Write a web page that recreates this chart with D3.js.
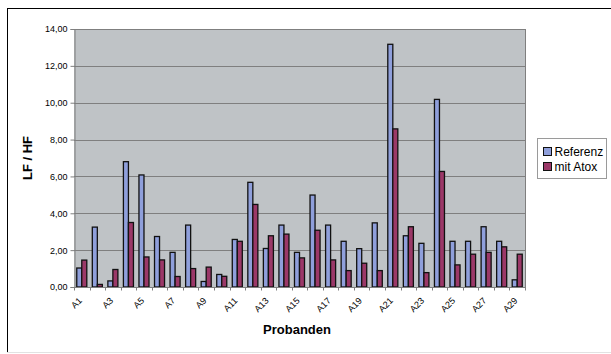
<!DOCTYPE html>
<html>
<head>
<meta charset="utf-8">
<script src="https://cdn.jsdelivr.net/npm/d3@7"></script>
<style>
  html, body { margin: 0; padding: 0; background: #fff; }
  svg { display: block; font-family: Arial, "Liberation Sans", sans-serif; }
</style>
</head>
<body>
<svg id="chart" width="611" height="354"></svg>
<script>
// Probanden A1..A29, LF/HF ratio for the two conditions
const categories = d3.range(1, 30).map(i => "A" + i);
const referenz = [1.03, 3.25, 0.33, 6.80, 6.08, 2.74, 1.88, 3.36, 0.30, 0.68, 2.58, 5.68,
                  2.09, 3.36, 1.88, 4.99, 3.36, 2.48, 2.08, 3.48, 13.17, 2.78, 2.37, 10.18,
                  2.48, 2.48, 3.27, 2.48, 0.39];
const mitAtox = [1.46, 0.14, 0.95, 3.50, 1.63, 1.47, 0.57, 1.00, 1.08, 0.58, 2.48, 4.48,
                 2.78, 2.87, 1.58, 3.08, 1.47, 0.89, 1.29, 0.89, 8.58, 3.27, 0.78, 6.27,
                 1.20, 1.78, 1.88, 2.18, 1.78];
const seriesNames = ["Referenz", "mit Atox"];
const seriesColors = ["#8f9fdb", "#9b3868"];
const yTicks = [0, 2, 4, 6, 8, 10, 12, 14];

const svg = d3.select("#chart");
const plot = { left: 74, top: 29, right: 525, bottom: 287 };

// outer frame of the chart object
svg.append("line").attr("x1", 7.5).attr("x2", 7.5).attr("y1", 8).attr("y2", 352)
  .attr("stroke", "#000").attr("stroke-width", 1);
svg.append("line").attr("x1", 7).attr("x2", 611).attr("y1", 8.5).attr("y2", 8.5)
  .attr("stroke", "#000").attr("stroke-width", 1);
svg.append("line").attr("x1", 7).attr("x2", 611).attr("y1", 352.5).attr("y2", 352.5)
  .attr("stroke", "#e2e2e2").attr("stroke-width", 1);

const x = d3.scaleBand().domain(categories).range([plot.left, plot.right]).padding(0);
const inner = d3.scaleBand().domain(seriesNames).range([0, x.bandwidth()])
  .paddingOuter(0.55).paddingInner(0);
const y = d3.scaleLinear().domain([0, 14]).range([plot.bottom, plot.top]);

// plot area background
svg.append("rect")
  .attr("x", plot.left).attr("y", plot.top)
  .attr("width", plot.right - plot.left).attr("height", plot.bottom - plot.top)
  .attr("fill", "#bfc3c6");

// gridlines
svg.append("g").selectAll("line").data(yTicks.filter(d => d > 0)).join("line")
  .attr("x1", plot.left).attr("x2", plot.right)
  .attr("y1", d => Math.round(y(d)) + 0.5).attr("y2", d => Math.round(y(d)) + 0.5)
  .attr("stroke", "#7f7f7f").attr("stroke-width", 1);

// right border of plot area
svg.append("line").attr("x1", plot.right + 0.5).attr("x2", plot.right + 0.5)
  .attr("y1", plot.top).attr("y2", plot.bottom)
  .attr("stroke", "#7f7f7f").attr("stroke-width", 1);

// bars
const rows = categories.map((c, i) => ({ cat: c, vals: [referenz[i], mitAtox[i]] }));
const groups = svg.append("g").selectAll("g").data(rows).join("g")
  .attr("transform", d => `translate(${x(d.cat)},0)`);
groups.selectAll("rect")
  .data(d => d.vals.map((v, k) => ({ name: seriesNames[k], v, k })))
  .join("rect")
  .attr("x", d => inner(d.name))
  .attr("y", d => y(d.v))
  .attr("width", inner.bandwidth())
  .attr("height", d => y(0) - y(d.v))
  .attr("fill", d => seriesColors[d.k])
  .attr("stroke", "#111")
  .attr("stroke-width", 1.3);

// y axis
const yAxis = d3.axisLeft(y).tickValues(yTicks).tickSize(4)
  .tickFormat(d => d3.format(".2f")(d).replace(".", ","));
const gy = svg.append("g").attr("transform", `translate(${plot.left + 0.5},0)`).call(yAxis);
gy.select(".domain").attr("stroke", "#7f7f7f");
gy.selectAll(".tick line").attr("stroke", "#7f7f7f");
gy.selectAll(".tick text").attr("font-size", 9).attr("fill", "#000").attr("x", -7)
  .attr("font-family", "Arial, 'Liberation Sans', sans-serif");

// x axis: tick marks at category boundaries, labels on every other category
const gx = svg.append("g").attr("transform", `translate(0,${plot.bottom + 0.5})`);
gx.append("line").attr("x1", plot.left).attr("x2", plot.right + 1)
  .attr("stroke", "#7f7f7f");
gx.selectAll("line.tk").data(d3.range(categories.length + 1)).join("line")
  .attr("class", "tk")
  .attr("x1", i => Math.round(plot.left + i * x.step()) + 0.5)
  .attr("x2", i => Math.round(plot.left + i * x.step()) + 0.5)
  .attr("y1", 0).attr("y2", 3)
  .attr("stroke", "#7f7f7f");
gx.selectAll("text").data(categories.filter((c, i) => i % 2 === 0)).join("text")
  .attr("transform", d => `translate(${x(d) + x.bandwidth() / 2 - 3},${10}) rotate(-45)`)
  .attr("text-anchor", "end")
  .attr("dy", "0.6em")
  .attr("font-size", 9)
  .attr("fill", "#000")
  .text(d => d);

// axis titles
svg.append("text")
  .attr("x", 297).attr("y", 334)
  .attr("text-anchor", "middle")
  .attr("font-size", 13).attr("font-weight", "bold")
  .text("Probanden");
svg.append("text")
  .attr("transform", "translate(32,158) rotate(-90)")
  .attr("text-anchor", "middle")
  .attr("font-size", 13).attr("font-weight", "bold")
  .text("LF / HF");

// legend
const legend = svg.append("g").attr("transform", "translate(537.5,138.5)");
legend.append("rect").attr("width", 69).attr("height", 40)
  .attr("fill", "#fff").attr("stroke", "#9a9a9a");
seriesNames.forEach((name, k) => {
  const row = legend.append("g").attr("transform", `translate(6,${9 + k * 15})`);
  row.append("rect").attr("width", 8).attr("height", 8)
    .attr("fill", seriesColors[k]).attr("stroke", "#111").attr("stroke-width", 1);
  row.append("text").attr("x", 11).attr("y", 8.5)
    .attr("font-size", 12).attr("fill", "#000").text(name);
});
</script>
</body>
</html>
